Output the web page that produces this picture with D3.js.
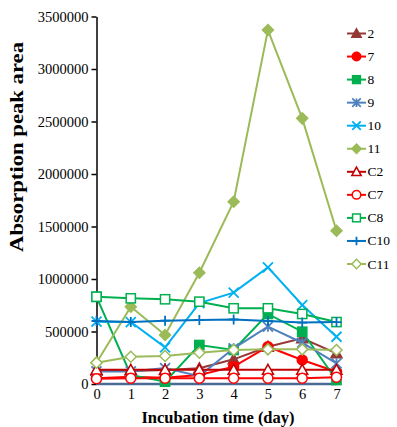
<!DOCTYPE html>
<html>
<head>
<meta charset="utf-8">
<script src="https://cdn.jsdelivr.net/npm/d3@7"></script>
<style>
  body { margin: 0; background: #fff; }
  svg { display: block; font-family: "Liberation Serif", "Times New Roman", serif; }
</style>
</head>
<body>
<div id="chart"></div>
<script>
// chart data
const days = [0, 1, 2, 3, 4, 5, 6, 7];
const yTicks = [0, 500000, 1000000, 1500000, 2000000, 2500000, 3000000, 3500000];
const names = ['2', '7', '8', '9', '10', '11', 'C2', 'C7', 'C8', 'C10', 'C11'];
const s2 = [125000, 125000, 133000, 150000, 235000, 355000, 435000, 292000];
const s7 = [55000, 70000, 60000, 86000, 165000, 355000, 229000, 117000];
const s8 = [830000, 86000, 22000, 371000, 324000, 667000, 498000, 38000];
const s9 = [120000, 120000, 152000, 75000, 340000, 546000, 393000, 197000];
const s10 = [593000, 590000, 349000, 770000, 870000, 1110000, 752000, 450000];
const s11 = [203000, 736000, 467000, 1060000, 1736000, 3371000, 2530000, 1460000];
const sC2 = [135000, 135000, 135000, 135000, 135000, 135000, 135000, 135000];
const sC7 = [50000, 55000, 55000, 55000, 55000, 55000, 55000, 65000];
const sC8 = [831000, 816000, 807000, 784000, 721000, 721000, 667000, 590000];
const sC10 = [600000, 590000, 603000, 610000, 615000, 600000, 585000, 590000];
const sC11 = [203000, 260000, 267000, 298000, 324000, 330000, 330000, 324000];
const allValues = [s2, s7, s8, s9, s10, s11, sC2, sC7, sC8, sC10, sC11];

// look of every series: colour and marker kind
const colors = ['#953735', '#ff0000', '#00b050', '#4f81bd', '#00b0f0', '#9bbb59',
                '#c00000', '#ff0000', '#00b050', '#0070c0', '#9bbb59'];
const markers = ['triangle', 'circle', 'square', 'star', 'x', 'diamond',
                 'triangleOpen', 'circleOpen', 'squareOpen', 'plus', 'diamondOpen'];

const series = names.map((name, i) => ({
    name,
    color: colors[i],
    marker: markers[i],
    values: allValues[i],
}));

const width = 397;
const height = 427;
const plot = {left: 96.5, right: 336.5, top: 16.5, bottom: 384};

const svg = d3.select('#chart')
    .append('svg')
    .attr('width', width)
    .attr('height', height);

const xScale = d3.scaleLinear().domain([0, 7]).range([plot.left, plot.right]);
const yScale = d3.scaleLinear().domain([0, 3500000]).range([plot.bottom, plot.top]);

// marker drawing, big = plot size, small = legend size
function drawMarker(g, kind, color, x, y, big) {
    const k = big ? 1 : 0.85;
    if (kind === 'triangle' || kind === 'triangleOpen') {
        const s = 5.5 * k;
        g.append('path')
            .attr('d', `M${x},${y - s}L${x + s},${y + s * 0.8}L${x - s},${y + s * 0.8}Z`)
            .attr('fill', kind === 'triangle' ? color : '#fff')
            .attr('stroke', color)
            .attr('stroke-width', 1.5);
    } else if (kind === 'circle' || kind === 'circleOpen') {
        g.append('circle')
            .attr('cx', x).attr('cy', y).attr('r', 5 * k)
            .attr('fill', kind === 'circle' ? color : '#fff')
            .attr('stroke', color)
            .attr('stroke-width', 1.5);
    } else if (kind === 'square' || kind === 'squareOpen') {
        const s = 4.6 * k;
        g.append('rect')
            .attr('x', x - s).attr('y', y - s)
            .attr('width', 2 * s).attr('height', 2 * s)
            .attr('fill', kind === 'square' ? color : '#fff')
            .attr('stroke', color)
            .attr('stroke-width', 1.5);
    } else if (kind === 'diamond' || kind === 'diamondOpen') {
        const s = 5.5 * k;
        g.append('path')
            .attr('d', `M${x},${y - s}L${x + s},${y}L${x},${y + s}L${x - s},${y}Z`)
            .attr('fill', kind === 'diamond' ? color : '#fff')
            .attr('stroke', color)
            .attr('stroke-width', 1.5);
    } else {
        const s = 5 * k;
        let d = '';
        if (kind === 'x' || kind === 'star') {
            d += `M${x - s},${y - s}L${x + s},${y + s}M${x - s},${y + s}L${x + s},${y - s}`;
        }
        if (kind === 'plus' || kind === 'star') {
            d += `M${x},${y - s}L${x},${y + s}`;
        }
        if (kind === 'plus') {
            d += `M${x - s},${y}L${x + s},${y}`;
        }
        g.append('path')
            .attr('d', d)
            .attr('fill', 'none')
            .attr('stroke', color)
            .attr('stroke-width', 1.8);
    }
}

// Y axis
const yAxis = d3.axisLeft(yScale)
    .tickValues(yTicks)
    .tickSize(5)
    .tickSizeOuter(0)
    .tickPadding(3)
    .tickFormat(d3.format('d'));
const yG = svg.append('g')
    .attr('transform', `translate(${plot.left},0)`)
    .call(yAxis);
yG.selectAll('path, line').attr('stroke', '#000').attr('stroke-width', 1.5);
yG.selectAll('text').attr('font-size', 14.5).attr('font-family', 'Liberation Serif').attr('fill', '#000');

// X axis (tick labels only, base line drawn in blue-gray like the picture)
const xAxis = d3.axisBottom(xScale)
    .tickValues(days)
    .tickSize(0)
    .tickPadding(5)
    .tickFormat(d3.format('d'));
const xG = svg.append('g')
    .attr('transform', `translate(0,${plot.bottom})`)
    .call(xAxis);
xG.select('.domain').remove();
xG.selectAll('text').attr('font-size', 14.5).attr('font-family', 'Liberation Serif').attr('fill', '#000');
svg.append('line')
    .attr('x1', plot.left).attr('x2', plot.right)
    .attr('y1', plot.bottom).attr('y2', plot.bottom)
    .attr('stroke', '#4a6a96')
    .attr('stroke-width', 2.5);

// lines and markers
const line = d3.line()
    .x((d, i) => xScale(days[i]))
    .y((d) => yScale(d));

series.forEach((s) => {
    const g = svg.append('g').attr('class', 'series');
    g.append('path')
        .attr('d', line(s.values))
        .attr('fill', 'none')
        .attr('stroke', s.color)
        .attr('stroke-width', 2);
    s.values.forEach((v, i) => drawMarker(g, s.marker, s.color, xScale(days[i]), yScale(v), true));
});

// legend
const legend = svg.append('g').attr('class', 'legend');
series.forEach((s, i) => {
    const y = 33.5 + i * 23.05;
    legend.append('line')
        .attr('x1', 347).attr('x2', 366)
        .attr('y1', y).attr('y2', y)
        .attr('stroke', s.color)
        .attr('stroke-width', 2);
    drawMarker(legend, s.marker, s.color, 356.5, y, false);
    legend.append('text')
        .attr('x', 367.5).attr('y', y + 4.5)
        .attr('font-size', 13.5)
        .text(s.name);
});

// axis titles
svg.append('text')
    .attr('x', 218).attr('y', 423)
    .attr('text-anchor', 'middle')
    .attr('font-size', 16.5)
    .attr('font-weight', 'bold')
    .text('Incubation time (day)');

svg.append('text')
    .attr('transform', 'translate(23,147) rotate(-90)')
    .attr('text-anchor', 'middle')
    .attr('font-size', 19)
    .attr('font-weight', 'bold')
    .attr('textLength', 210)
    .attr('lengthAdjust', 'spacingAndGlyphs')
    .text('Absorption peak area');
</script>
</body>
</html>
